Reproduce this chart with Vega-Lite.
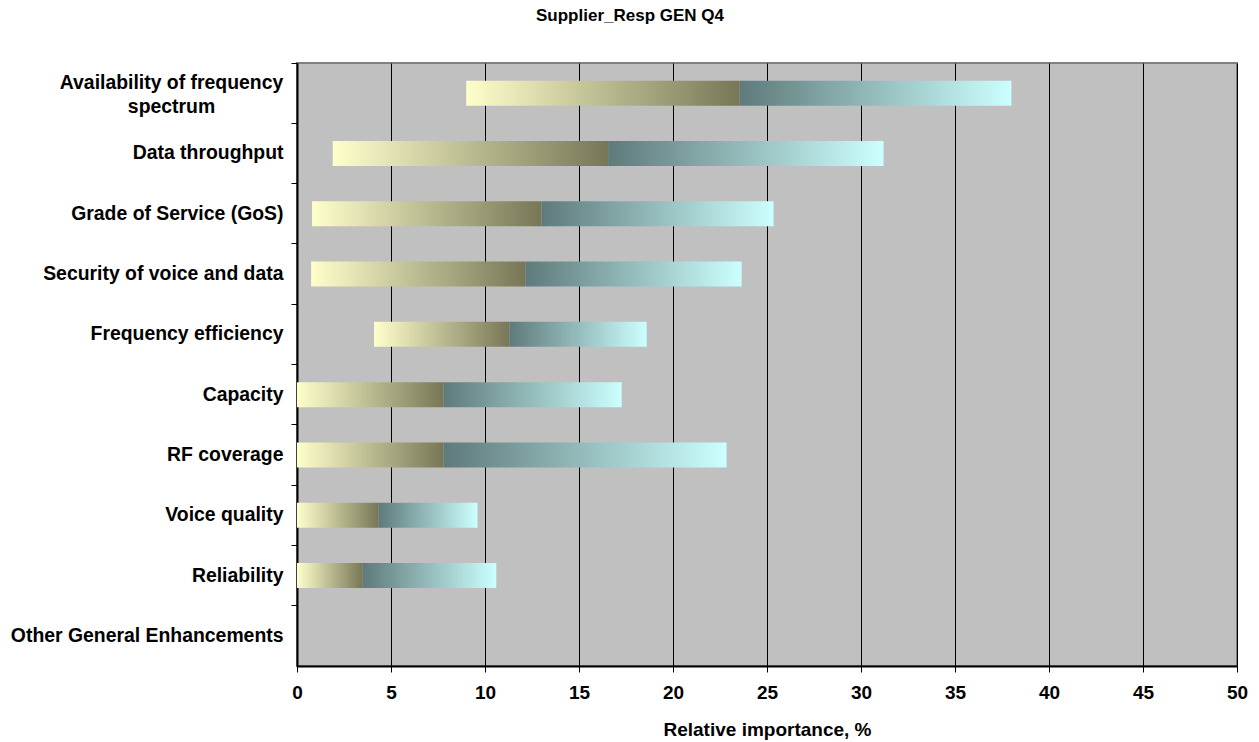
{
  "$schema": "https://vega.github.io/schema/vega-lite/v6.json",
  "width": 940,
  "height": 603,
  "autosize": "none",
  "padding": {"left": 297, "top": 63, "right": 22, "bottom": 76},
  "background": "white",
  "title": {"text": "Supplier_Resp GEN Q4", "font": "Liberation Sans", "fontSize": 17, "fontWeight": "bold", "color": "black", "anchor": "middle", "dx": -137, "offset": 38},
  "config": {"view": {"fill": "#C0C0C0", "stroke": "#808080", "strokeWidth": 2}, "font": "Liberation Sans"},
  "data": {"values": [
    {"item": "Availability of frequency spectrum", "lo": 9.0, "mid": 23.55, "hi": 38.0},
    {"item": "Data throughput", "lo": 1.9, "mid": 16.55, "hi": 31.2},
    {"item": "Grade of Service (GoS)", "lo": 0.8, "mid": 13.0, "hi": 25.35},
    {"item": "Security of voice and data", "lo": 0.75, "mid": 12.15, "hi": 23.65},
    {"item": "Frequency efficiency", "lo": 4.1, "mid": 11.3, "hi": 18.6},
    {"item": "Capacity", "lo": 0, "mid": 7.8, "hi": 17.27},
    {"item": "RF coverage", "lo": 0, "mid": 7.8, "hi": 22.85},
    {"item": "Voice quality", "lo": 0, "mid": 4.35, "hi": 9.6},
    {"item": "Reliability", "lo": 0, "mid": 3.5, "hi": 10.6},
    {"item": "Other General Enhancements", "lo": null, "mid": null, "hi": null}
  ]},
  "layer": [
    {
      "mark": {"type": "bar", "size": 25, "color": {"gradient": "linear", "x1": 0, "y1": 0, "x2": 1, "y2": 0, "stops": [{"offset": 0, "color": "#FFFFCC"}, {"offset": 1, "color": "#777757"}]}},
      "encoding": {
        "y": {
          "field": "item", "type": "nominal", "sort": null,
          "scale": {"domain": ["Availability of frequency spectrum", "Data throughput", "Grade of Service (GoS)", "Security of voice and data", "Frequency efficiency", "Capacity", "RF coverage", "Voice quality", "Reliability", "Other General Enhancements"], "paddingInner": 0, "paddingOuter": 0},
          "axis": {
            "title": null, "labelFontSize": 19.4, "labelFontWeight": "bold", "labelColor": "black",
            "tickColor": "black", "tickSize": 6, "domainColor": "black", "domainWidth": 2,
            "bandPosition": 0, "labelLineHeight": 24, "labelLimit": 400,
            "labelExpr": "datum.value == 'Availability of frequency spectrum' ? ['Availability of frequency', 'spectrum'] : datum.label",
            "labelAlign": {"condition": {"test": "datum.value == 'Availability of frequency spectrum'", "value": "center"}, "value": "right"},
            "labelPadding": {"condition": {"test": "datum.value == 'Availability of frequency spectrum'", "value": 120}, "value": 8},
            "labelOffset": {"condition": {"test": "datum.value == 'Availability of frequency spectrum'", "value": -10}, "value": 0}
          }
        },
        "x": {"field": "lo", "type": "quantitative", "scale": {"domain": [0, 50], "nice": false, "zero": true},
          "axis": {"title": "Relative importance, %", "values": [0, 5, 10, 15, 20, 25, 30, 35, 40, 45, 50], "grid": true, "gridColor": "black", "gridWidth": 1, "gridOpacity": 1,
            "domainColor": "black", "domainWidth": 2, "tickColor": "black", "tickSize": 6, "labelFontSize": 19, "labelFontWeight": "bold", "labelColor": "black",
            "labelPadding": 11, "labelFlush": false, "titleFontSize": 19, "titleFontWeight": "bold", "titleColor": "black", "titlePadding": 18}},
        "x2": {"field": "mid"}
      }
    },
    {
      "mark": {"type": "bar", "size": 25, "color": {"gradient": "linear", "x1": 0, "y1": 0, "x2": 1, "y2": 0, "stops": [{"offset": 0, "color": "#5F7A7A"}, {"offset": 1, "color": "#CCFFFF"}]}},
      "encoding": {
        "y": {"field": "item", "type": "nominal", "sort": null},
        "x": {"field": "mid", "type": "quantitative"},
        "x2": {"field": "hi"}
      }
    }
  ]
}
